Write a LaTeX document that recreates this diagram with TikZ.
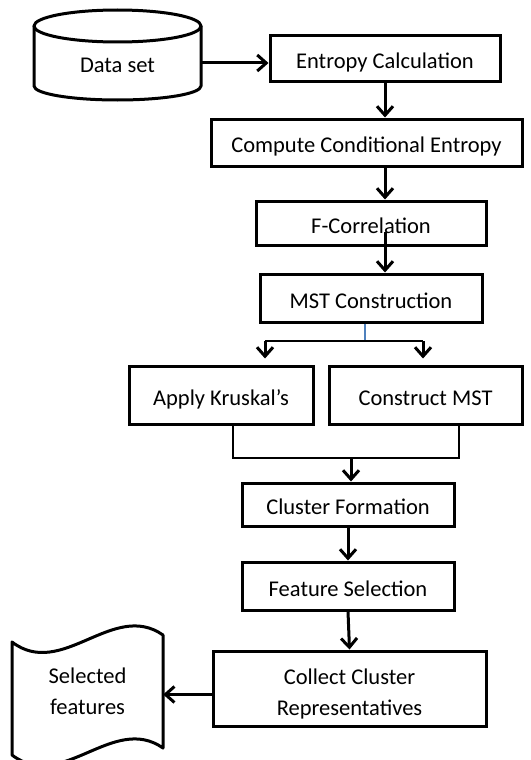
\documentclass[tikz,border=0pt]{standalone}
\usepackage{fontspec}
\setmainfont{Carlito}
\usetikzlibrary{arrows.meta,calc}
\definecolor{linkblue}{RGB}{79,129,189}
\begin{document}
\begin{tikzpicture}[x=1pt,y=-1pt,
  box/.style={draw, line width=3pt, inner sep=0pt, align=center,
    font=\fontsize{22.5}{31}\selectfont, text height=20pt, text depth=0pt},
  label/.style={inner sep=0pt, align=center, font=\fontsize{22.5}{31}\selectfont,
    text height=20pt, text depth=0pt},
  twolines/.style={text height=53pt, text depth=0pt},
  arr/.style={line width=3pt, -{Straight Barb[length=9pt,width=16pt]}},
  thinline/.style={line width=1.3pt},
  outline/.style={line width=3pt, line join=round}]
\useasboundingbox (0,0) rectangle (530,760);

% data store (cylinder)
\node[label, minimum width=167pt, minimum height=60pt] (ds) at (117.5,63) {Data set};
\draw[outline] (34,26) -- (34,86) arc[start angle=180, end angle=360, x radius=83.5pt, y radius=14pt] -- (201,26);
\draw[outline] (117.5,26) ellipse [x radius=83.5pt, y radius=16pt];

% process boxes
\node[box, minimum width=230pt, minimum height=45pt] (ent) at (385,58.5) {Entropy Calculation};
\node[box, minimum width=311pt, minimum height=47pt] (cce) at (366.5,142.5) {Compute Conditional Entropy};
\node[box, minimum width=230pt, minimum height=44pt] (fc) at (371,223) {F-Correlation};
\node[box, minimum width=222pt, minimum height=48pt] (mst) at (371,298) {MST Construction};
\node[box, minimum width=184pt, minimum height=58pt] (apply) at (221,395) {Apply Kruskal’s};
\node[box, minimum width=193pt, minimum height=58pt] (construct) at (425.5,395) {Construct MST};
\node[box, minimum width=212pt, minimum height=43pt] (cluster) at (348,504.5) {Cluster Formation};
\node[box, minimum width=212pt, minimum height=48pt] (feature) at (348,586) {Feature Selection};
\node[box, twolines, minimum width=273pt, minimum height=75pt] (collect) at (349.5,688.5) {Collect Cluster\\Representatives};

% output document (tape)
\node[label, twolines, minimum width=151pt, minimum height=90pt] (sf) at (87.5,687.5) {Selected\\features};
\draw[outline] (12,642) .. controls (62,680) and (113,600) .. (163,635)
  -- (163,748) .. controls (113,713) and (62,793) .. (12,755) -- cycle;

% main flow
\draw[arr] (ds.east) -- (ds.east -| ent.west);
\draw[arr] (ent.south) -- (ent.south |- cce.north);
\draw[arr] (ent.south |- cce.south) -- (ent.south |- fc.north);
\draw[arr] ($(ent.south |- fc.center)+(0,9)$) -- (ent.south |- mst.north);

% split into the two MST steps
\coordinate (sp) at (365,341);
\coordinate (spl) at (265,341);
\coordinate (spr) at (423,341);
\draw[thinline, linkblue] (mst.south -| sp) -- (sp);
\draw[thinline] (spl) -- (spr);
\draw[arr, shorten >=6pt] (spl) -- (spl |- apply.north);
\draw[arr, shorten >=6pt] (spr) -- (spr |- construct.north);

% merge into cluster formation
\coordinate (jl) at (233,458);
\coordinate (jr) at (459,458);
\coordinate (jm) at (351,458);
\draw[thinline] (apply.south -| jl) -- (jl) -- (jr) -- (construct.south -| jr);
\draw[arr] (jm) -- (jm |- cluster.north);

\draw[arr] (cluster.south) -- (feature.north);
\draw[arr] (feature.south) -- (collect.north);
\draw[arr] ($(collect.west)+(0,6)$) -- ($(collect.west -| sf.east)+(0,6)$);
\end{tikzpicture}
\end{document}
